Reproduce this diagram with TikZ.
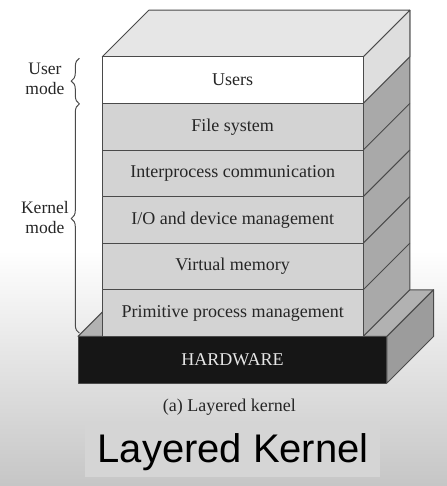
\documentclass[tikz,border=0pt]{standalone}
\usepackage{fontspec}
\setmainfont{Liberation Serif}
\newfontfamily\titlefont{Liberation Sans}
\definecolor{LayTop}{HTML}{E6E6E6}
\definecolor{LayFront}{HTML}{D3D3D3}
\definecolor{LaySide}{HTML}{A9A9A9}
\definecolor{LaySideUp}{HTML}{DEDEDE}
\definecolor{HwDark}{HTML}{161616}
\definecolor{HwSide}{HTML}{9C9C9C}
\definecolor{HwTop}{HTML}{B2B2B2}
\definecolor{EdgeGray}{HTML}{4A4A4A}
\definecolor{InkGray}{HTML}{262626}
\usepackage{tikz}
\usetikzlibrary{decorations.pathreplacing}

\begin{document}
\begin{tikzpicture}[
    edge/.style={draw=EdgeGray, line width=0.6pt, line join=round},
    laytext/.style={text=InkGray, font=\fontsize{11}{13}\selectfont},
    modetext/.style={text=InkGray, align=center, font=\fontsize{10.7}{12.2}\selectfont},
    modebrace/.style={draw=EdgeGray, line width=0.6pt, decorate, decoration={brace, amplitude=5pt}}
  ]
        % Background of the video frame
        \fill[white] (-1.674,8.219) rectangle (7.918,2.84);
        \shade[top color=white, bottom color=gray!45] (-1.674,2.85) rectangle (7.918,-2.21);
        \useasboundingbox (-1.674,-2.21) rectangle (7.918,8.219);

        % Hardware slab
        \filldraw[edge, fill=HwTop]  (0,1) -- (1,2) -- (7.63,2) -- (6.63,1) -- cycle;
        \filldraw[edge, fill=HwSide] (6.63,0) -- (7.63,1) -- (7.63,2) -- (6.63,1) -- cycle;
        \filldraw[edge, fill=HwDark] (0,0) rectangle (6.63,1) node[midway, laytext, text=gray!20] (hw) {HARDWARE};

        % Side and top of the stack
        \filldraw[edge, fill=LaySide]   (6.12,1) -- (7.12,2) -- (7.12,8) -- (6.12,7) -- cycle;
        \filldraw[edge, fill=LaySideUp] (6.12,6) -- (7.12,7) -- (7.12,8) -- (6.12,7) -- cycle;
        \draw[edge] (6.12,2) -- (7.12,3) (6.12,3) -- (7.12,4) (6.12,4) -- (7.12,5) (6.12,5) -- (7.12,6);
        \filldraw[edge, fill=LayTop]    (0.52,7) -- (1.52,8) -- (7.12,8) -- (6.12,7) -- cycle;

        % Front layers
        \filldraw[edge, fill=LayFront] (0.52,1) rectangle (6.12,2) node[midway, laytext] (prim) {Primitive process management};
        \filldraw[edge, fill=LayFront] (0.52,2) rectangle (6.12,3) node[midway, laytext] (vmem) {Virtual memory};
        \filldraw[edge, fill=LayFront] (0.52,3) rectangle (6.12,4) node[midway, laytext] (iodev) {I/O and device management};
        \filldraw[edge, fill=LayFront] (0.52,4) rectangle (6.12,5) node[midway, laytext] (ipc) {Interprocess communication};
        \filldraw[edge, fill=LayFront] (0.52,5) rectangle (6.12,6) node[midway, laytext] (filesys) {File system};
        \filldraw[edge, fill=white]    (0.52,6) rectangle (6.12,7) node[midway, laytext] (users) {Users};

        % Mode braces
        \draw[modebrace] (0.03,5.99) -- (0.03,6.97);
        \draw[modebrace] (0.03,1.07) -- (0.03,5.99);
        \node[modetext] (usermode) at (-0.71,6.52) {User\\mode};
        \node[modetext] (kernmode) at (-0.71,3.56) {Kernel\\mode};

        % Captions
        \node[anchor=base, laytext, text=gray!30!black] (capt) at (3.25,-0.62) {(a) Layered kernel};
        \fill[gray!33] (0.15,-0.837) rectangle (6.48,-2.017);
        \node[anchor=base, font=\titlefont\fontsize{24.4}{29}\selectfont] (title) at (3.33,-1.695) {Layered Kernel};
      \end{tikzpicture}
\end{document}
